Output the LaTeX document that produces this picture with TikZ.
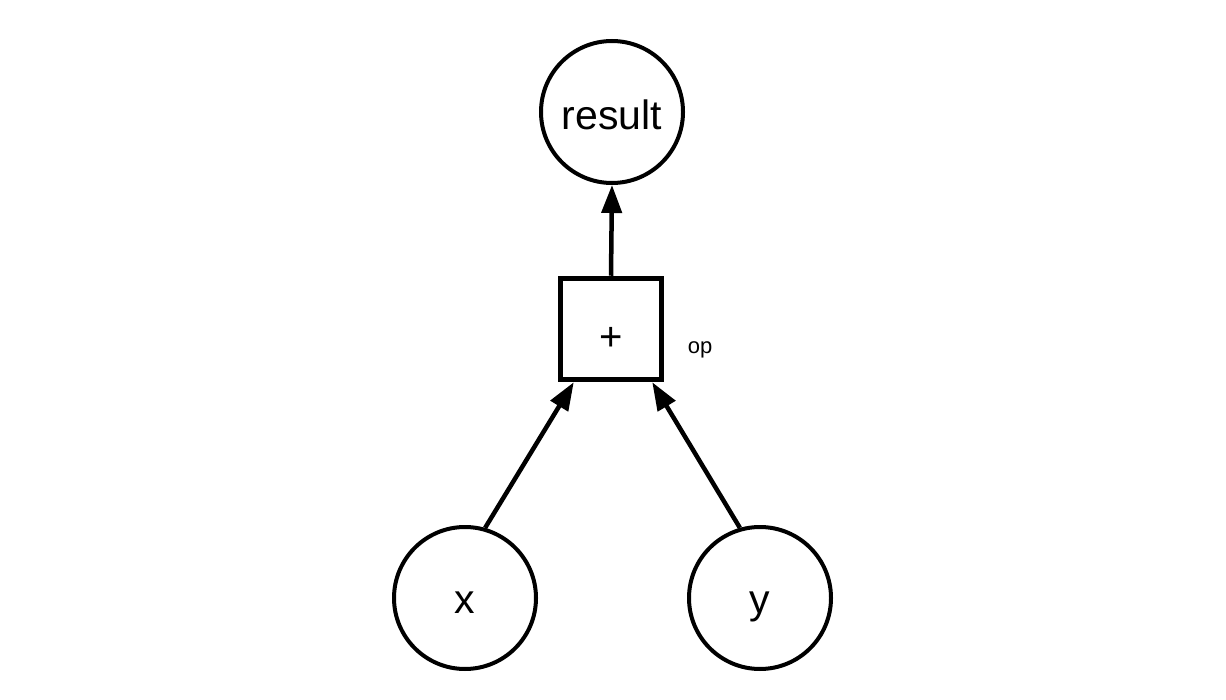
\documentclass[tikz,border=0pt]{standalone}
\usepackage{fontspec}
\setmainfont{Liberation Sans}
\usetikzlibrary{arrows.meta,calc}
\begin{document}
\begin{tikzpicture}[x=1pt,y=-1pt,
  valnode/.style={circle,draw,line width=4pt,minimum size=142pt,inner sep=0pt,
    text height=30pt,text depth=0pt,font=\fontsize{41}{41}\selectfont},
  opnode/.style={rectangle,draw,line width=5.5pt,minimum size=101pt,inner sep=0pt,
    text height=43pt,text depth=0pt,font=\fontsize{40}{40}\selectfont},
  edge/.style={line width=4.5pt,-{Triangle[length=28pt,width=20pt]}},
  tag/.style={font=\fontsize{22}{22}\selectfont}]
  \useasboundingbox (0,0) rectangle (1226,700);
  % value and operation nodes
  \node[valnode,text height=35pt] (result) at (612,112) {result};
  \node[opnode] (op) at (611,329) {+};
  \node[tag] (oplabel) at (700,350) {op};
  \node[valnode] (x) at (465,598) {x};
  \node[valnode] (y) at (760,598) {y};
  % data flow
  \draw[edge] (x.74) -- ($(op.south west)+(16,0)$);
  \draw[edge] (y.106) -- ($(op.south east)+(-12,0)$);
  \draw[edge] (op.north) -- (result.south);
\end{tikzpicture}
\end{document}
